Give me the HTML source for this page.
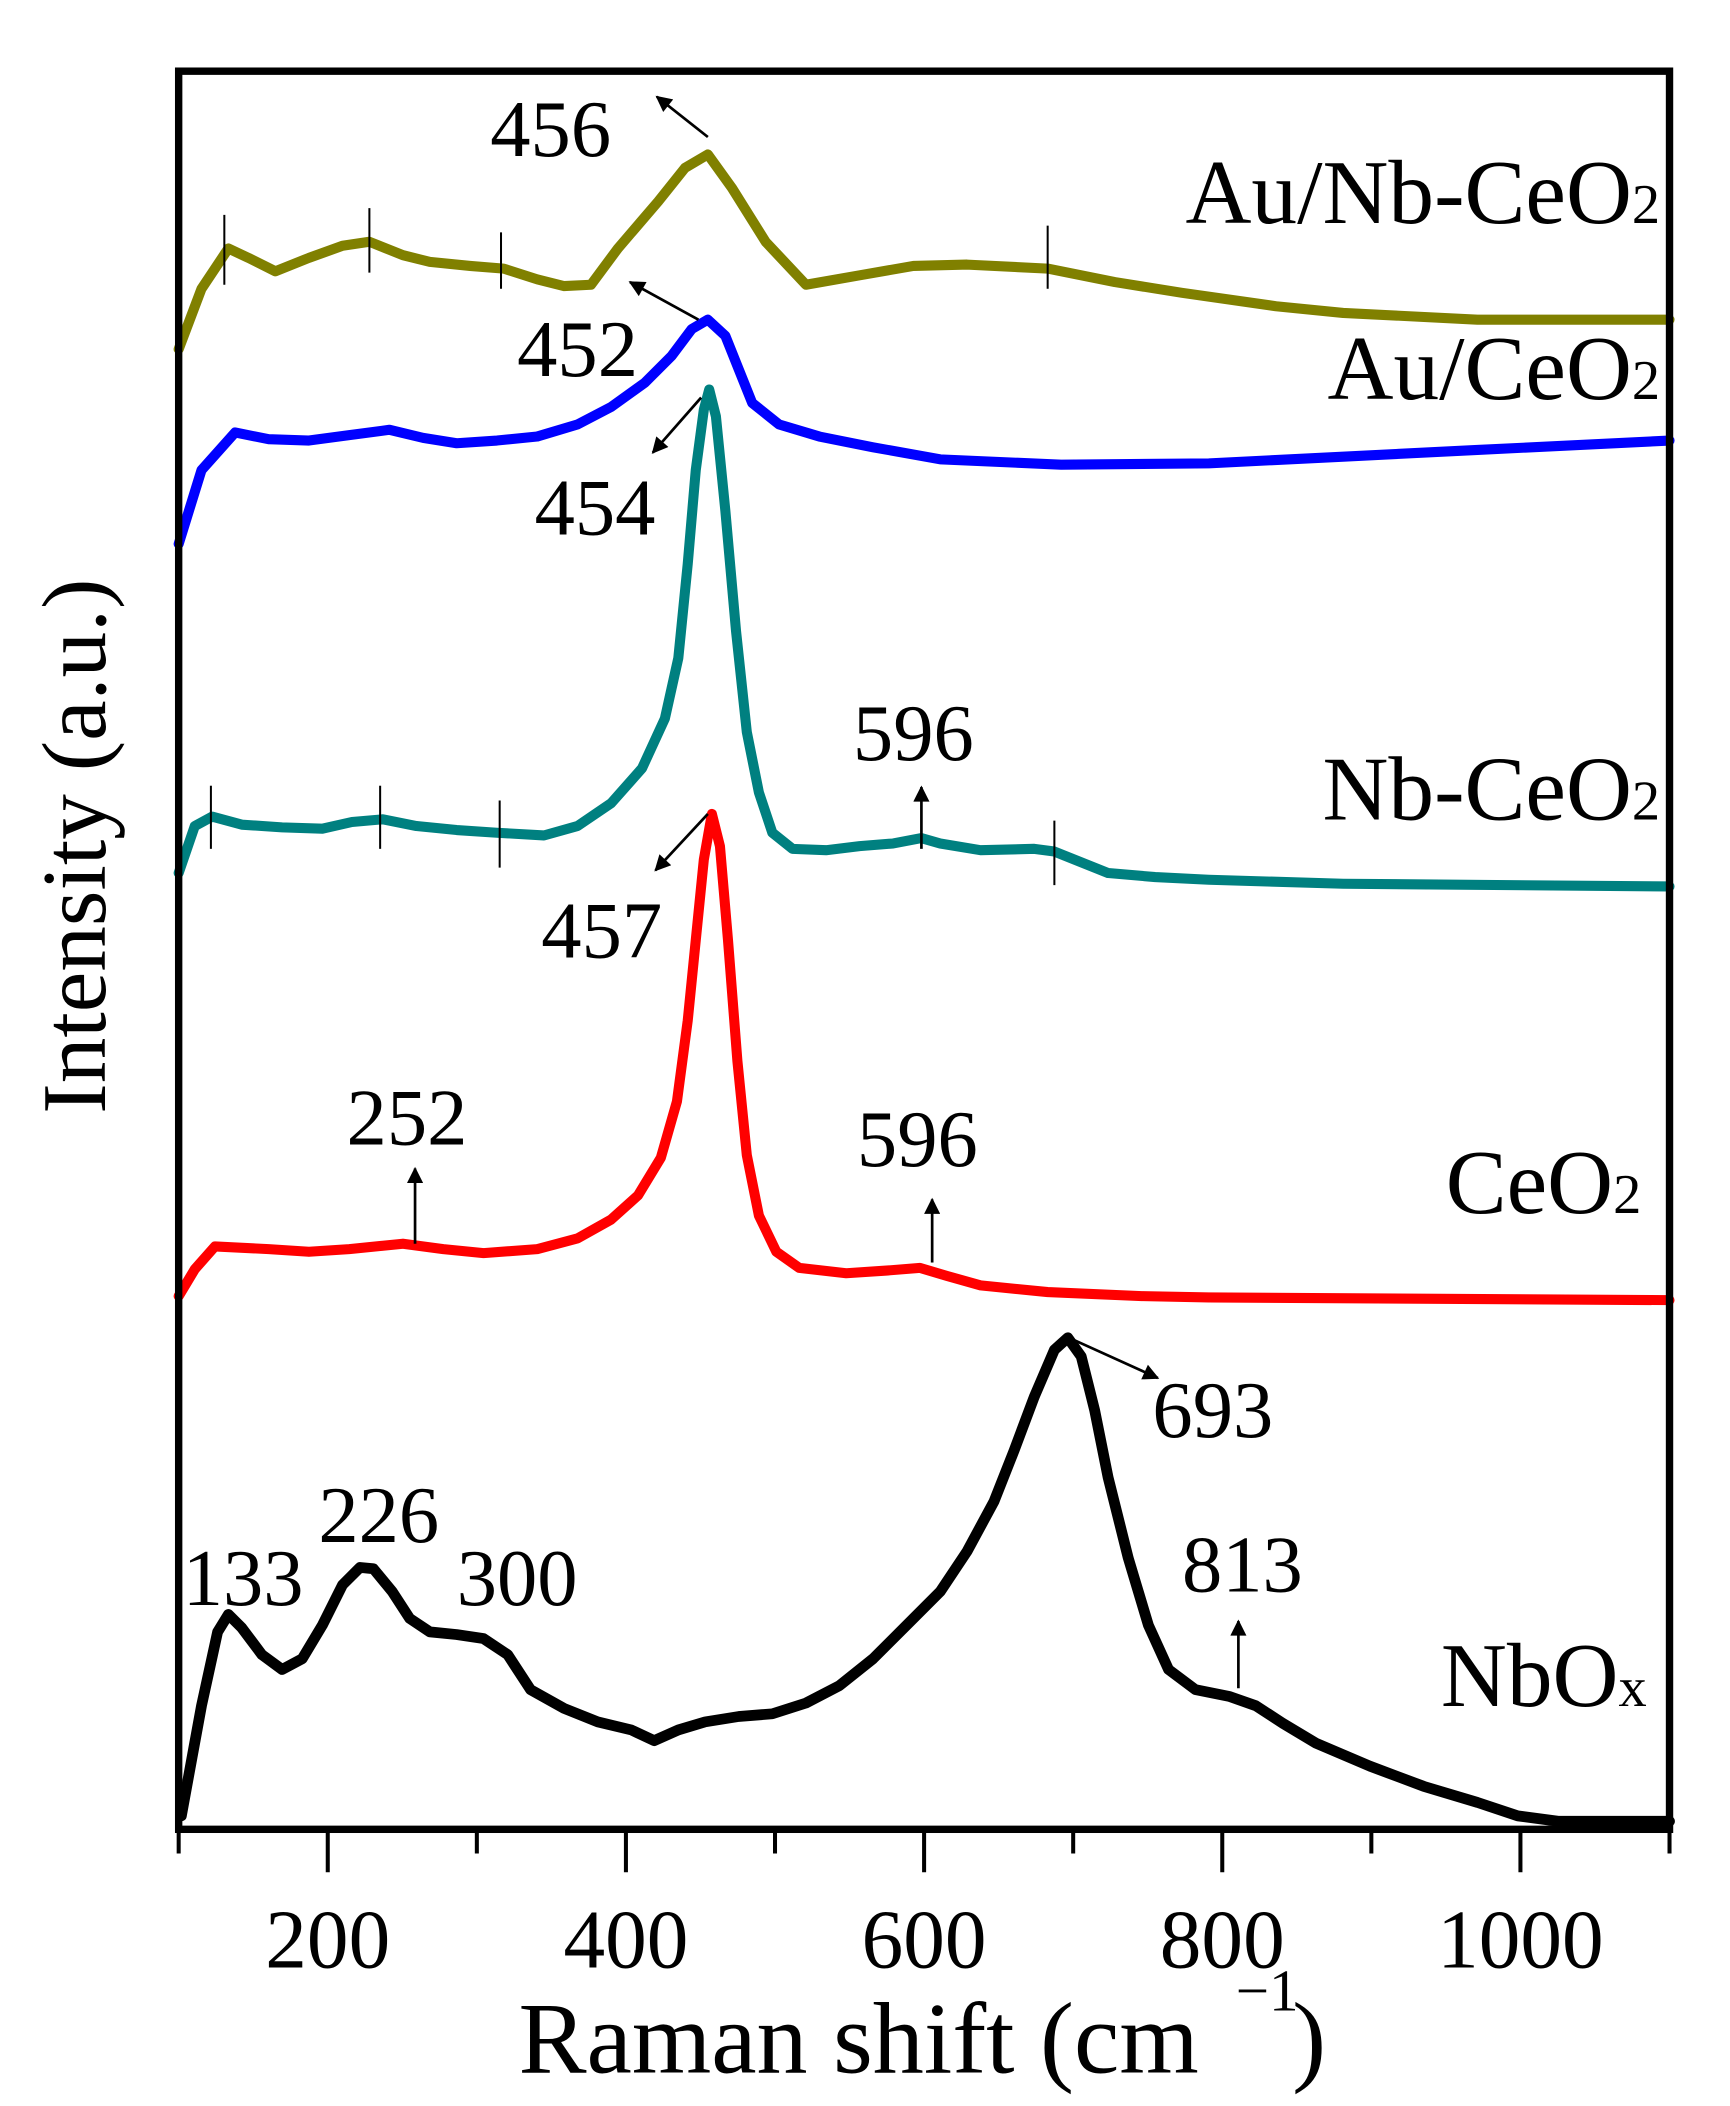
<!DOCTYPE html>
<html><head><meta charset="utf-8"><style>
html,body{margin:0;padding:0;background:#fff;}
svg{display:block;}
text{font-family:"Liberation Serif",serif;fill:#000;}
</style></head><body>
<svg width="1730" height="2106" viewBox="0 0 1288 1568" xmlns="http://www.w3.org/2000/svg">
<defs>
<marker id="ah" viewBox="0 0 10 10" refX="9" refY="5" markerWidth="7" markerHeight="6" orient="auto-start-reverse"><path d="M0,0 L10,5 L0,10 z" fill="#000"/></marker>
</defs>
<g fill="none" stroke-linejoin="round" stroke-linecap="round">
<polyline stroke="#808000" stroke-width="7.5" points="133,260 150,215 170,185 185,192 205,202 230,192 255,183 275,180 300,190 320,195 350,198 375,200 400,208 420,213 440,212 460,185 490,150 510,125 527,115 545,140 570,180 600,212 640,205 680,198 720,197 780,200 830,210 880,218 950,228 1000,233 1100,238 1243,238"/>
<polyline stroke="#0000ff" stroke-width="7.5" points="133,405 150,350 175,322 200,327 230,328 260,324 290,320 315,326 340,330 370,328 400,325 430,316 455,303 480,285 500,265 515,245 527,238 540,250 550,275 560,300 580,316 610,325 650,333 700,342 790,346 900,345 1000,340 1100,335 1243,328"/>
<polyline stroke="#008080" stroke-width="7.5" points="133,650 145,615 158,608 180,614 210,616 240,617 262,612 285,610 310,615 340,618 370,620 405,622 430,615 455,598 478,572 495,535 505,490 512,420 518,350 524,305 528,290 533,310 540,380 548,470 556,545 565,590 575,620 590,632 615,633 640,630 665,628 686,624 700,628 730,633 770,632 785,634 805,642 825,650 860,653 900,655 1000,658 1243,660"/>
<polyline stroke="#ff0000" stroke-width="7.5" points="133,965 145,945 160,928 200,930 230,932 260,930 300,926 330,930 360,933 400,930 430,922 455,908 475,890 492,862 504,820 512,760 518,700 524,640 530,606 536,630 542,700 549,790 556,860 565,905 578,932 595,944 630,948 660,946 685,944 705,950 730,957 780,962 850,965 900,966 1243,968"/>
<polyline stroke="#000000" stroke-width="8" points="135,1352 150,1270 162,1215 170,1202 180,1212 195,1232 210,1243 225,1235 240,1210 255,1180 268,1167 278,1168 292,1185 305,1205 320,1215 340,1217 360,1220 378,1232 395,1258 420,1272 445,1282 470,1288 487,1296 505,1288 525,1282 550,1278 575,1276 600,1268 625,1255 650,1235 675,1210 700,1185 720,1155 740,1118 755,1080 770,1040 785,1005 795,996 805,1010 815,1050 825,1100 840,1160 855,1210 870,1243 890,1258 915,1263 935,1270 955,1283 980,1298 1020,1315 1060,1330 1100,1342 1130,1352 1160,1356 1243,1356"/>
</g>
<g stroke="#000" stroke-width="1.5">
<line x1="167" y1="160" x2="167" y2="212"/><line x1="275" y1="155" x2="275" y2="203"/><line x1="373" y1="173" x2="373" y2="215"/><line x1="780" y1="168" x2="780" y2="215"/>
<line x1="157" y1="585" x2="157" y2="632"/><line x1="283" y1="585" x2="283" y2="632"/><line x1="372" y1="596" x2="372" y2="646"/><line x1="785" y1="611" x2="785" y2="659"/>
</g>
<g stroke="#000" stroke-width="2" marker-end="url(#ah)">
<line x1="527" y1="102" x2="489" y2="72"/>
<line x1="520" y1="238" x2="469" y2="210"/>
<line x1="522" y1="296" x2="486" y2="337"/>
<line x1="686" y1="632" x2="686" y2="586"/>
<line x1="527" y1="606" x2="488" y2="648"/>
<line x1="309" y1="926" x2="309" y2="870"/>
<line x1="694" y1="940" x2="694" y2="893"/>
<line x1="798" y1="997" x2="862" y2="1026"/>
<line x1="922" y1="1257" x2="922" y2="1207"/>
</g>
<rect x="133" y="53" width="1110" height="1309" fill="none" stroke="#000" stroke-width="5.5"/>
<g stroke="#000" stroke-width="3">
<line x1="244" y1="1362" x2="244" y2="1394"/><line x1="466" y1="1362" x2="466" y2="1394"/><line x1="688" y1="1362" x2="688" y2="1394"/><line x1="910" y1="1362" x2="910" y2="1394"/><line x1="1132" y1="1362" x2="1132" y2="1394"/>
<line x1="133" y1="1362" x2="133" y2="1380"/><line x1="355" y1="1362" x2="355" y2="1380"/><line x1="577" y1="1362" x2="577" y2="1380"/><line x1="799" y1="1362" x2="799" y2="1380"/><line x1="1021" y1="1362" x2="1021" y2="1380"/><line x1="1243" y1="1362" x2="1243" y2="1380"/>
</g>
<g font-size="62" text-anchor="middle">
<text x="244" y="1465">200</text><text x="466" y="1465">400</text><text x="688" y="1465">600</text><text x="910" y="1465">800</text><text x="1132" y="1465">1000</text>
</g>
<text x="386" y="1543" font-size="76">Raman shift (cm</text>
<text x="920" y="1497" font-size="44">−1</text>
<text x="962" y="1543" font-size="76">)</text>
<text transform="translate(78,630) rotate(-90)" text-anchor="middle" font-size="68">Intensity (a.u.)</text>
<g font-size="60">
<text x="365" y="116">456</text>
<text x="385" y="280">452</text>
<text x="398" y="398">454</text>
<text x="635" y="566">596</text>
<text x="403" y="713">457</text>
<text x="258" y="852">252</text>
<text x="638" y="868">596</text>
<text x="858" y="1070">693</text>
<text x="136" y="1195">133</text>
<text x="237" y="1148">226</text>
<text x="340" y="1195">300</text>
<text x="880" y="1185">813</text>
</g>
<g font-size="68" text-anchor="end">
<text x="1236" y="166">Au/Nb-CeO<tspan font-size="42">2</tspan></text>
<text x="1236" y="297">Au/CeO<tspan font-size="42">2</tspan></text>
<text x="1236" y="610">Nb-CeO<tspan font-size="42">2</tspan></text>
<text x="1222" y="903">CeO<tspan font-size="42">2</tspan></text>
<text x="1226" y="1270">NbO<tspan font-size="42">x</tspan></text>
</g>
</svg>
</body></html>
